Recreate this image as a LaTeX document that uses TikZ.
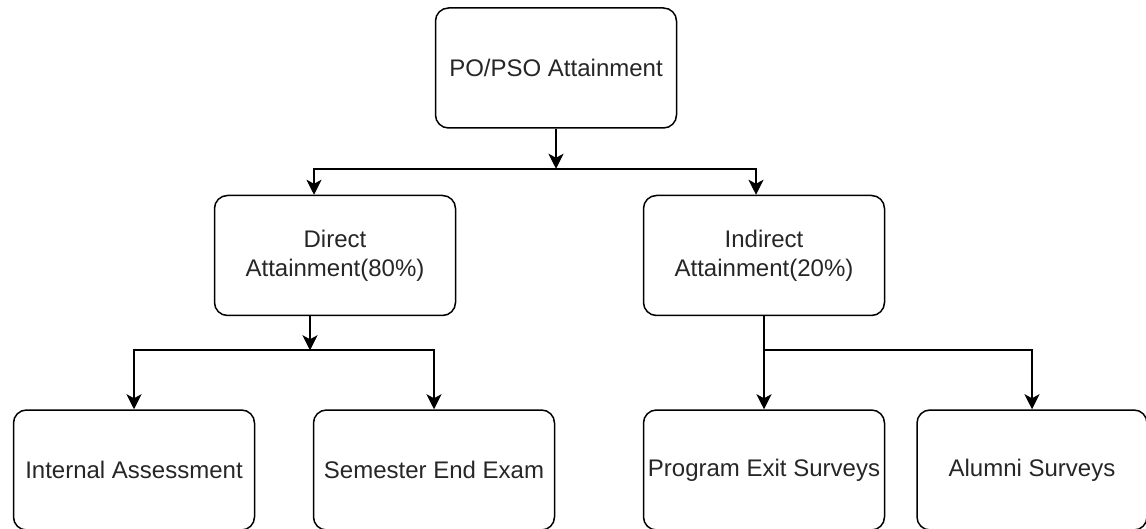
\documentclass[tikz,border=0pt]{standalone}
\usepackage{fontspec}
\setmainfont{Liberation Sans}
\usetikzlibrary{positioning,calc,arrows.meta}

\tikzset{
  box/.style={draw, line width=1.5pt, rounded corners=13pt, minimum width=241pt,
    minimum height=120pt, align=center, text=black!85,
    font=\fontsize{24}{29}\selectfont},
  arr/.style={line width=1.6pt, -{Stealth[length=15pt, width=15pt, inset=4pt]}},
}

\begin{document}
\begin{tikzpicture}[x=1pt, y=1pt]
\useasboundingbox (0,0) rectangle (1146,-529);
\node[box] (po) at (556,-68) {PO/PSO Attainment};
\node[box, below=66pt of po, xshift=-221pt] (dir) {Direct\\Attainment(80\%)};
\node[box, below=66pt of po, xshift=208pt] (ind) {Indirect\\Attainment(20\%)};
\node[box, below=93pt of dir, xshift=-201pt] (ia) {Internal Assessment};
\node[box, below=93pt of dir, xshift=99pt] (see) {Semester End Exam};
\node[box, below=93pt of ind] (pes) {Program Exit Surveys};
\node[box, right=31pt of pes, minimum width=230pt] (as) {Alumni Surveys};

\coordinate (j1) at ($(po.south)+(0,-40)$);
\coordinate (d1) at ($(dir.north)+(-21,0)$);
\coordinate (i1) at ($(ind.north)+(-8,0)$);
\coordinate (d2) at ($(dir.south)+(-25,0)$);
\coordinate (j2) at ($(d2)+(0,-34)$);
\coordinate (j3) at ($(ind.south)+(0,-34)$);

\draw[arr] (po) -- (j1);
\draw[arr] (j1) -| (d1);
\draw[arr] (j1) -| (i1);
\draw[arr] (d2) -- (j2);
\draw[arr] (j2) -| (ia);
\draw[arr] (j2) -| (see);
\draw[arr] (ind) -- (pes);
\draw[arr] (j3) -| (as);
\end{tikzpicture}
\end{document}
